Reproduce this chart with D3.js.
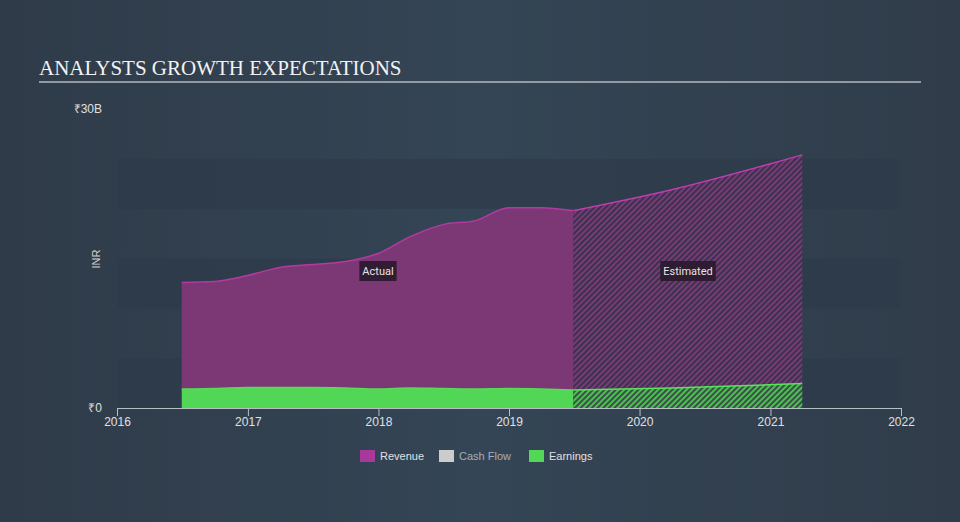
<!DOCTYPE html>
<html><head><meta charset="utf-8">
<script src="https://cdn.jsdelivr.net/npm/d3@7"></script>
<style>body{margin:0;background:#334454;}svg{display:block;}</style>
</head><body>
<svg id="c" width="960" height="522"></svg>
<script>
const actualDates = ["2016-06-30","2016-09-30","2016-12-31","2017-03-31","2017-06-30","2017-09-30","2017-12-31","2018-03-31","2018-06-30","2018-09-30","2018-12-31","2019-03-31","2019-06-30"];
const actualRevenue = [12.6,12.7,13.3,14.1,14.4,14.7,15.5,17.2,18.4,18.8,20.1,20.1,19.8];
const actualEarnings = [1.9,1.95,2.05,2.05,2.05,2.0,1.9,2.0,1.95,1.9,1.95,1.9,1.8];
const estDates = ["2019-06-30","2020-03-31","2021-03-31"];
const estRevenue = [19.8,21.9,25.4];
const estEarnings = [1.8,2.0,2.45];
const yTicks = [0,30];
const xTickYears = [2016,2017,2018,2019,2020,2021,2022];
const legendItems = ["Revenue","Cash Flow","Earnings"];
const legendColors = ["#a8389a","#cccccc","#52d856"];

const svg = d3.select("#c");
const W = 960, H = 522;
const parse = d3.timeParse("%Y-%m-%d");

const defs = svg.append("defs");
const bg = defs.append("linearGradient").attr("id","bg").attr("x1","0").attr("x2","1").attr("y1","0").attr("y2","0");
bg.append("stop").attr("offset","0").attr("stop-color","#2f3b49");
bg.append("stop").attr("offset","0.5").attr("stop-color","#344555");
bg.append("stop").attr("offset","1").attr("stop-color","#303c4a");
svg.append("rect").attr("width",W).attr("height",H).attr("fill","url(#bg)");

function hatch(id, bgc, line){
  const p = defs.append("pattern").attr("id",id).attr("patternUnits","userSpaceOnUse")
    .attr("width",4).attr("height",4).attr("patternTransform","rotate(45)");
  p.append("rect").attr("width",4).attr("height",4).attr("fill",bgc);
  p.append("rect").attr("width",2).attr("height",4).attr("fill",line);
}
hatch("hRev","#3a3350","#7a3a74");
hatch("hEarn","#3a5048","#4cc050");

const x = d3.scaleTime().domain([parse("2016-01-01"),parse("2022-01-01")]).range([117,901]);
const y = d3.scaleLinear().domain([0,30]).range([408,109]);

// bands
[[0,5],[10,15],[20,25]].forEach(b=>{
  svg.append("rect").attr("x",117).attr("width",784).attr("y",y(b[1])).attr("height",y(b[0])-y(b[1]))
    .attr("fill","#2d3b4a").attr("opacity",0.7);
});

// title
svg.append("text").attr("x",39).attr("y",75).text("ANALYSTS GROWTH EXPECTATIONS")
  .attr("font-family","'Liberation Serif', serif").attr("font-size",21).attr("fill","#f2f2f2");
svg.append("line").attr("x1",39).attr("x2",921).attr("y1",82).attr("y2",82).attr("stroke","#b5b9be").attr("stroke-width",1.5);

const act = actualDates.map((d,i)=>({d:parse(d),r:actualRevenue[i],e:actualEarnings[i]}));
const est = estDates.map((d,i)=>({d:parse(d),r:estRevenue[i],e:estEarnings[i]}));
const curve = d3.curveMonotoneX;

const areaRev = d3.area().x(d=>x(d.d)).y0(d=>y(d.e)).y1(d=>y(d.r)).curve(curve);
const areaEarn = d3.area().x(d=>x(d.d)).y0(y(0)).y1(d=>y(d.e)).curve(curve);
const lineRev = d3.line().x(d=>x(d.d)).y(d=>y(d.r)).curve(curve);
const lineEarn = d3.line().x(d=>x(d.d)).y(d=>y(d.e)).curve(curve);

svg.append("path").datum(act).attr("d",areaRev).attr("fill","#7b3874");
svg.append("path").datum(act).attr("d",areaEarn).attr("fill","#52d656");
svg.append("path").datum(act).attr("d",lineRev).attr("fill","none").attr("stroke","#b43aa2").attr("stroke-width",1.5);
svg.append("path").datum(act).attr("d",lineEarn).attr("fill","none").attr("stroke","#58dc58").attr("stroke-width",1.5);

svg.append("path").datum(est).attr("d",areaRev).attr("fill","url(#hRev)");
svg.append("path").datum(est).attr("d",areaEarn).attr("fill","url(#hEarn)");
svg.append("path").datum(est).attr("d",lineRev).attr("fill","none").attr("stroke","#c03cb0").attr("stroke-width",1.5);
svg.append("path").datum(est).attr("d",lineEarn).attr("fill","none").attr("stroke","#5be35b").attr("stroke-width",1.5);

// labels
function tag(cx, cy, txt){
  const t = svg.append("text").attr("x",cx).attr("y",cy+4).attr("text-anchor","middle")
    .attr("font-family","Roboto, 'Open Sans', sans-serif").attr("font-size",11).attr("fill","#e6e6e6").text(txt);
  const bb = t.node().getBBox();
  svg.insert("rect", () => t.node()).attr("x",bb.x-3).attr("y",cy-10).attr("width",bb.width+6).attr("height",20)
    .attr("fill","#2a1a2c").attr("opacity",0.9);
}
tag(378, 271, "Actual");
tag(688, 271, "Estimated");

// axes
const xAxis = d3.axisBottom(x).tickValues(xTickYears.map(yy=>new Date(yy,0,1))).tickFormat(d3.timeFormat("%Y")).tickSize(8).tickSizeOuter(0);
const gx = svg.append("g").attr("transform","translate(0,408)").call(xAxis);
gx.select(".domain").attr("stroke","#b8bec6");
gx.selectAll(".tick line").attr("stroke","#b8bec6");
gx.selectAll(".tick text").attr("fill","#e0e0e0").attr("font-family","'Liberation Sans', Arial, sans-serif").attr("font-size",12).attr("dy","0.55em");

const yAxis = d3.axisLeft(y).tickValues(yTicks).tickFormat(v=> v===0 ? "₹0" : "₹"+v+"B").tickSize(0);
const gy = svg.append("g").attr("transform","translate(102,0)").call(yAxis);
gy.select(".domain").remove();
gy.selectAll(".tick text").attr("fill","#e0e0e0").attr("font-family","'Liberation Sans', Arial, sans-serif").attr("font-size",12).attr("x",0);

svg.append("text").attr("transform","translate(100,259) rotate(-90)").attr("text-anchor","middle")
  .attr("font-family","'Liberation Sans', Arial, sans-serif").attr("font-size",11).attr("fill","#d0d0d0").text("INR");

// legend
const lx = [360,439,529];
legendItems.forEach((n,i)=>{
  svg.append("rect").attr("x",lx[i]).attr("y",450).attr("width",15).attr("height",12).attr("fill",legendColors[i]);
  svg.append("text").attr("x",lx[i]+20).attr("y",460).text(n)
    .attr("font-family","'Liberation Sans', Arial, sans-serif").attr("font-size",11)
    .attr("fill", n==="Cash Flow" ? "#a9adb3" : "#e0e0e0");
});
</script>
</body></html>
